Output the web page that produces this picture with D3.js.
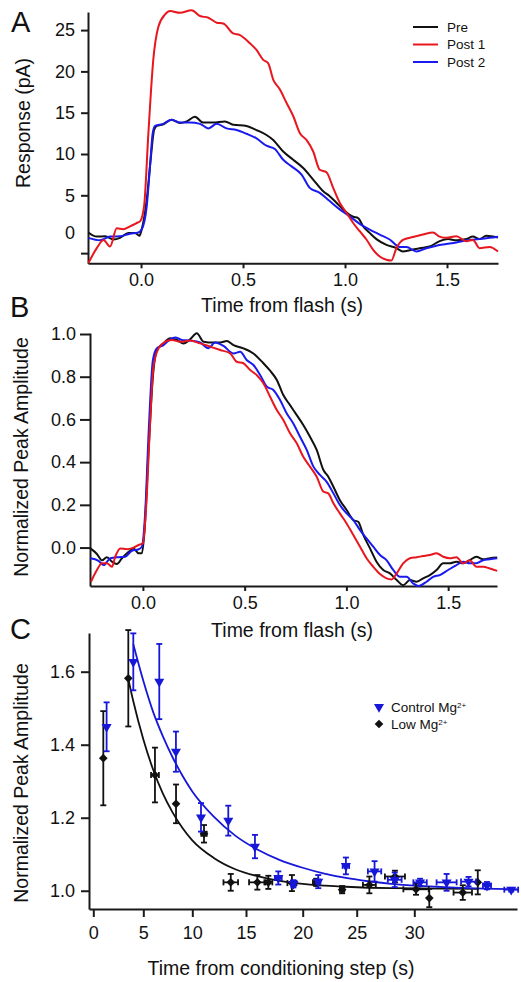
<!DOCTYPE html>
<html>
<head>
<meta charset="utf-8">
<script src="https://cdn.jsdelivr.net/npm/d3@7"></script>
<style>
  body { margin: 0; background: #fff; }
  svg { display: block; font-family: "Liberation Sans", Arial, Helvetica, sans-serif; }
  .axis path, .axis line { stroke: #1a1a1a; stroke-width: 2; }
  .axis text { font-size: 18px; fill: #111; font-family: "Liberation Sans", Arial, sans-serif; }
</style>
</head>
<body>
<svg width="521" height="982"></svg>
<script>
// ---- panel A : raw responses (pA), [time s, value]
const preA = [[-0.258,0.5],[-0.217,0],[-0.176,0.05],[-0.135,-0.35],[-0.103,-0.15],[-0.062,0.45],[-0.029,0.45],[-0.008,0.1],[0.003,0.85],[0.028,4.5],[0.047,9.3],[0.064,12.9],[0.077,13.4],[0.109,13.6],[0.150,14.15],[0.191,13.75],[0.224,13.95],[0.264,14.5],[0.305,13.8],[0.354,13.8],[0.411,13.95],[0.452,13.55],[0.517,13.4],[0.566,12.9],[0.615,12.3],[0.648,11.7],[0.697,10.3],[0.746,9.3],[0.795,8.3],[0.844,6.9],[0.893,5.5],[0.925,4.9],[0.958,4.1],[0.999,3.1],[1.040,2.4],[1.064,2.25],[1.089,1.25],[1.121,0.45],[1.154,-0.3],[1.203,-1.0],[1.252,-1.4],[1.284,-1.8],[1.317,-1.65],[1.366,-1.4],[1.415,-1.2],[1.464,-0.55],[1.505,-0.3],[1.546,-0.45],[1.595,-0.3],[1.627,0],[1.660,-0.3],[1.692,0.1],[1.750,-0.1]];
const post1A = [[-0.258,-3.2],[-0.217,-1.4],[-0.184,-0.4],[-0.152,-1.2],[-0.119,1.0],[-0.087,0.9],[-0.054,1.25],[-0.021,1.65],[-0.005,1.85],[0.015,3.7],[0.036,12.5],[0.060,21.4],[0.085,25.4],[0.118,26.9],[0.142,27.3],[0.191,27.1],[0.248,27.4],[0.289,26.7],[0.330,26.5],[0.371,25.9],[0.403,25.8],[0.452,24.6],[0.485,24.4],[0.534,23.4],[0.566,22.6],[0.599,21.4],[0.623,21.0],[0.648,19.0],[0.681,17.8],[0.713,16.2],[0.746,14.6],[0.779,12.5],[0.811,11.7],[0.844,10.3],[0.876,8.1],[0.909,7.8],[0.942,5.9],[0.974,4.1],[1.007,2.9],[1.040,1.65],[1.072,0.65],[1.105,-0.35],[1.138,-1.6],[1.170,-2.4],[1.203,-2.8],[1.227,-2.9],[1.252,-1.4],[1.284,-0.4],[1.333,-0.05],[1.382,0.25],[1.431,0.5],[1.464,0],[1.497,-0.15],[1.546,0.05],[1.595,-0.55],[1.627,-0.4],[1.660,-1.4],[1.709,-1.25],[1.750,-1.8]];
const post2A = [[-0.258,-0.15],[-0.201,-0.45],[-0.152,0],[-0.103,0.05],[-0.054,0.35],[-0.013,0.5],[0.003,0.85],[0.028,3.7],[0.044,8.5],[0.057,12.5],[0.069,13.4],[0.109,13.65],[0.150,14.15],[0.191,13.8],[0.240,13.8],[0.289,13.65],[0.330,13.1],[0.371,13.65],[0.419,13.1],[0.468,12.9],[0.517,12.45],[0.566,11.9],[0.615,11.0],[0.656,10.6],[0.697,9.3],[0.738,8.5],[0.787,7.5],[0.827,5.9],[0.876,5.3],[0.925,4.3],[0.974,3.3],[1.023,2.45],[1.072,1.55],[1.121,0.85],[1.170,0.25],[1.219,-0.35],[1.268,-1.25],[1.301,-1.25],[1.350,-1.8],[1.399,-1.4],[1.448,-1.1],[1.497,-0.9],[1.546,-0.7],[1.595,-0.45],[1.660,-0.3],[1.709,-0.15],[1.750,0]];
const yTicksA = [-2, 0, 5, 10, 15, 20, 25];

// ---- panel B : normalized responses
const preB = [[-0.258,-0.004],[-0.226,-0.03],[-0.201,-0.06],[-0.177,-0.045],[-0.152,-0.066],[-0.128,-0.077],[-0.103,-0.05],[-0.070,-0.02],[-0.046,-0.004],[-0.021,-0.027],[-0.005,-0.027],[0.007,0.066],[0.028,0.457],[0.049,0.80],[0.069,0.925],[0.101,0.956],[0.134,0.98],[0.167,0.972],[0.200,0.956],[0.232,0.975],[0.265,1.003],[0.298,0.964],[0.347,0.96],[0.380,0.96],[0.412,0.967],[0.445,0.948],[0.494,0.933],[0.543,0.909],[0.592,0.863],[0.625,0.828],[0.658,0.785],[0.690,0.714],[0.723,0.667],[0.756,0.62],[0.788,0.574],[0.821,0.519],[0.854,0.457],[0.887,0.363],[0.911,0.332],[0.936,0.285],[0.968,0.222],[1.001,0.176],[1.034,0.129],[1.058,0.121],[1.083,0.059],[1.116,-0.004],[1.148,-0.066],[1.181,-0.105],[1.214,-0.121],[1.247,-0.152],[1.279,-0.176],[1.312,-0.152],[1.345,-0.16],[1.377,-0.144],[1.410,-0.129],[1.443,-0.105],[1.476,-0.074],[1.508,-0.074],[1.541,-0.066],[1.574,-0.074],[1.606,-0.059],[1.639,-0.043],[1.672,-0.055],[1.705,-0.05],[1.741,-0.047]];
const post1B = [[-0.255,-0.16],[-0.226,-0.105],[-0.201,-0.074],[-0.177,-0.074],[-0.152,-0.09],[-0.136,-0.043],[-0.111,-0.004],[-0.079,-0.008],[-0.046,0],[-0.021,0.012],[0.000,0.02],[0.016,0.191],[0.033,0.535],[0.052,0.847],[0.077,0.933],[0.110,0.964],[0.142,0.972],[0.183,0.964],[0.232,0.969],[0.281,0.956],[0.330,0.941],[0.380,0.925],[0.429,0.909],[0.461,0.87],[0.494,0.863],[0.527,0.831],[0.559,0.808],[0.592,0.769],[0.625,0.706],[0.658,0.644],[0.690,0.597],[0.723,0.535],[0.756,0.488],[0.788,0.425],[0.821,0.379],[0.854,0.332],[0.887,0.262],[0.911,0.254],[0.936,0.207],[0.968,0.16],[1.001,0.113],[1.034,0.059],[1.067,0.004],[1.099,-0.05],[1.132,-0.09],[1.165,-0.124],[1.197,-0.144],[1.222,-0.149],[1.247,-0.121],[1.279,-0.074],[1.312,-0.05],[1.345,-0.045],[1.377,-0.04],[1.410,-0.035],[1.443,-0.027],[1.476,-0.043],[1.508,-0.05],[1.541,-0.045],[1.574,-0.074],[1.606,-0.059],[1.639,-0.09],[1.672,-0.09],[1.705,-0.098],[1.741,-0.109]];
const post2B = [[-0.258,-0.05],[-0.218,-0.062],[-0.193,-0.082],[-0.160,-0.05],[-0.119,-0.045],[-0.087,-0.043],[-0.054,-0.015],[-0.021,-0.008],[-0.005,0.004],[0.011,0.16],[0.028,0.535],[0.049,0.878],[0.069,0.933],[0.101,0.948],[0.134,0.975],[0.159,0.984],[0.191,0.972],[0.232,0.969],[0.281,0.96],[0.322,0.933],[0.355,0.96],[0.396,0.944],[0.445,0.909],[0.478,0.917],[0.510,0.878],[0.543,0.855],[0.576,0.808],[0.609,0.753],[0.641,0.738],[0.674,0.691],[0.707,0.628],[0.739,0.581],[0.772,0.519],[0.805,0.457],[0.838,0.379],[0.870,0.34],[0.903,0.308],[0.936,0.254],[0.968,0.199],[1.001,0.16],[1.034,0.129],[1.067,0.082],[1.099,0.043],[1.132,0.004],[1.165,-0.035],[1.197,-0.059],[1.230,-0.105],[1.263,-0.137],[1.296,-0.137],[1.328,-0.168],[1.353,-0.18],[1.394,-0.16],[1.426,-0.137],[1.459,-0.129],[1.500,-0.105],[1.541,-0.082],[1.574,-0.066],[1.606,-0.074],[1.639,-0.074],[1.672,-0.059],[1.705,-0.055],[1.741,-0.05]];
const yTicksB = [0, 0.2, 0.4, 0.6, 0.8, 1.0];
const xTicksAB = [0, 0.5, 1.0, 1.5];

// ---- panel C : recovery after conditioning step
const controlX = [1.33, 4.0, 6.63, 8.33, 10.81, 13.35, 15.79, 17.85, 19.18, 21.44, 24.0, 26.55, 28.3, 30.5, 32.8, 34.7, 36.3, 38.4];
const controlY = [1.449, 1.627, 1.573, 1.381, 1.201, 1.192, 1.121, 1.035, 1.019, 1.025, 1.068, 1.053, 1.030, 1.023, 1.023, 1.025, 1.014, 1.003];
const controlErrY = [0.067, 0.078, 0.103, 0.055, 0.039, 0.041, 0.032, 0.018, 0.01, 0.018, 0.023, 0.028, 0.02, 0.01, 0.023, 0.013, 0.01, 0.005];
const controlErrX = [0, 0, 0, 0, 0, 0, 0, 0.3, 0.2, 0.2, 0.3, 0.58, 0.6, 0.58, 0.87, 0.65, 0.35, 0.6];
const lowX = [1.0, 3.5, 6.19, 8.34, 11.09, 13.58, 16.0, 16.97, 19.05, 21.25, 23.65, 26.1, 28.32, 30.15, 31.3, 34.2, 35.5];
const lowY = [1.363, 1.582, 1.317, 1.238, 1.156, 1.023, 1.023, 1.023, 1.021, 1.023, 1.003, 1.016, 1.039, 1.004, 0.98, 0.995, 1.023];
const lowErrY = [0.129, 0.132, 0.075, 0.053, 0.024, 0.023, 0.02, 0.018, 0.022, 0.01, 0.01, 0.023, 0.016, 0.015, 0.025, 0.02, 0.033];
const lowErrX = [0, 0, 0.4, 0, 0.25, 0.68, 0.73, 0.35, 0.4, 0.3, 0.2, 0.56, 0.87, 1.1, 0, 0.8, 0];
// fitted exponential curves
const controlFitX = [4, 5, 6, 7, 8, 9, 10, 12, 14, 16, 18, 20, 22, 24, 26, 28, 30, 32, 34, 36, 38.9];
const controlFitY = [1.675, 1.575, 1.49, 1.423, 1.365, 1.315, 1.272, 1.203, 1.151, 1.113, 1.084, 1.063, 1.047, 1.035, 1.026, 1.019, 1.014, 1.011, 1.008, 1.006, 1.004];
const lowFitX = [3.5, 4, 5, 6, 7, 8, 9, 10, 12, 14, 16, 18, 20, 24, 28, 32, 35.6];
const lowFitY = [1.580, 1.519, 1.415, 1.332, 1.266, 1.214, 1.172, 1.138, 1.090, 1.059, 1.040, 1.027, 1.019, 1.011, 1.007, 1.006, 1.005];
const xTicksC = [0, 5, 10, 15, 20, 25, 30];
const yTicksC = [1.0, 1.2, 1.4, 1.6];

const RED = '#e8161e';
const BLUE = '#1a1aee';
const BLACK = '#111111';

const svg = d3.select('svg');
svg.append('rect').attr('width', 521).attr('height', 982).attr('fill', '#fff');

function panelLetter(letter, x, y) {
  svg.append('text')
    .attr('x', x)
    .attr('y', y)
    .attr('font-size', 29)
    .attr('fill', '#111')
    .text(letter);
}

function axisTitle(text, x, y, rotate) {
  svg.append('text')
    .attr('transform', 'translate(' + x + ',' + y + ')' + (rotate ? ' rotate(-90)' : ''))
    .attr('text-anchor', 'middle')
    .attr('font-size', 19.5)
    .attr('fill', '#111')
    .text(text);
}

function drawTraces(x, y, series) {
  const line = d3.line()
    .x(function (d) { return x(d[0]); })
    .y(function (d) { return y(d[1]); })
    .curve(d3.curveMonotoneX);
  series.forEach(function (s) {
    svg.append('path')
      .datum(s.data)
      .attr('fill', 'none')
      .attr('stroke', s.color)
      .attr('stroke-width', 2)
      .attr('stroke-linejoin', 'round')
      .attr('d', line);
  });
}

// ---------------- Panel A
function panelA() {
  const x = d3.scaleLinear().domain([-0.26, 1.75]).range([88, 498]);
  const y = d3.scaleLinear().domain([-3.23, 27.19]).range([263.3, 12]);

  svg.append('g')
    .attr('class', 'axis')
    .attr('transform', 'translate(0,263.3)')
    .call(d3.axisBottom(x).tickValues(xTicksAB).tickFormat(d3.format('.1f')).tickSize(5).tickSizeOuter(0).tickPadding(5));

  const ya = svg.append('g')
    .attr('class', 'axis')
    .attr('transform', 'translate(88,0)')
    .call(d3.axisLeft(y).tickValues(yTicksA).tickFormat(function (d) { return d === -2 ? '' : d; })
      .tickSize(7).tickSizeOuter(0).tickPadding(6));
  // the "0" label stands without a tick mark
  ya.selectAll('.tick').filter(function (d) { return d === 0; }).select('line').remove();
  ya.selectAll('.tick').filter(function (d) { return d === 0; }).select('text').attr('dy', '0.1em');

  drawTraces(x, y, [
    { data: preA, color: BLACK },
    { data: post2A, color: BLUE },
    { data: post1A, color: RED }
  ]);

  const legend = [['Pre', BLACK], ['Post 1', RED], ['Post 2', BLUE]];
  const lg = svg.append('g').selectAll('g').data(legend).enter().append('g')
    .attr('transform', function (d, i) { return 'translate(413,' + (27 + i * 17.5) + ')'; });
  lg.append('line').attr('x1', 0).attr('x2', 25).attr('stroke', function (d) { return d[1]; }).attr('stroke-width', 2);
  lg.append('text').attr('x', 34).attr('dy', '0.36em').attr('font-size', 13.5).attr('fill', '#111')
    .text(function (d) { return d[0]; });

  axisTitle('Response (pA)', 30, 123, true);
  axisTitle('Time from flash (s)', 282, 312, false);
  panelLetter('A', 11, 32);
}

// ---------------- Panel B
function panelB() {
  const x = d3.scaleLinear().domain([-0.26, 1.74]).range([90, 497]);
  const y = d3.scaleLinear().domain([-0.18, 1.0047]).range([586, 333]);

  svg.append('g')
    .attr('class', 'axis')
    .attr('transform', 'translate(0,586)')
    .call(d3.axisBottom(x).tickValues(xTicksAB).tickFormat(d3.format('.1f')).tickSize(5).tickSizeOuter(0).tickPadding(5));

  svg.append('g')
    .attr('class', 'axis')
    .attr('transform', 'translate(90,0)')
    .call(d3.axisLeft(y).tickValues(yTicksB).tickFormat(d3.format('.1f')).tickSize(10).tickSizeOuter(0).tickPadding(4));

  drawTraces(x, y, [
    { data: preB, color: BLACK },
    { data: post2B, color: BLUE },
    { data: post1B, color: RED }
  ]);

  axisTitle('Normalized Peak Amplitude', 28, 457, true);
  axisTitle('Time from flash (s)', 292, 637, false);
  panelLetter('B', 10, 317);
}

// ---------------- Panel C
function panelC() {
  // the printed time axis is not evenly spaced, so map tick by tick
  const x = d3.scaleLinear()
    .domain([-0.38, 0, 5, 10, 15, 20, 25, 30, 38.9])
    .range([89, 93.3, 143.3, 192.3, 246, 302.7, 356.7, 414.3, 517]);
  const y = d3.scaleLinear().domain([0.95, 1.706]).range([909, 633]);

  svg.append('g')
    .attr('class', 'axis')
    .attr('transform', 'translate(0,909)')
    .call(d3.axisBottom(x).tickValues(xTicksC).tickSize(8).tickSizeOuter(0).tickPadding(9));

  svg.append('g')
    .attr('class', 'axis')
    .attr('transform', 'translate(89,0)')
    .call(d3.axisLeft(y).tickValues(yTicksC).tickFormat(d3.format('.1f')).tickSize(8).tickSizeOuter(0).tickPadding(6));

  const CBLUE = '#1717d8';
  const fitLine = d3.line()
    .x(function (d) { return x(d[0]); })
    .y(function (d) { return y(d[1]); })
    .curve(d3.curveMonotoneX);

  svg.append('path')
    .datum(d3.zip(lowFitX, lowFitY))
    .attr('fill', 'none').attr('stroke', BLACK).attr('stroke-width', 1.8)
    .attr('d', fitLine);
  svg.append('path')
    .datum(d3.zip(controlFitX, controlFitY))
    .attr('fill', 'none').attr('stroke', CBLUE).attr('stroke-width', 1.8)
    .attr('d', fitLine);

  function points(xs, ys, ey, ex, color, symbol) {
    const data = xs.map(function (v, i) { return { x: v, y: ys[i], ey: ey[i], ex: ex[i] }; });
    const g = svg.append('g').selectAll('g').data(data).enter().append('g');
    const cap = 3;
    g.append('line')
      .attr('x1', function (d) { return x(d.x); }).attr('x2', function (d) { return x(d.x); })
      .attr('y1', function (d) { return y(d.y + d.ey); }).attr('y2', function (d) { return y(d.y - d.ey); })
      .attr('stroke', color).attr('stroke-width', 1.8);
    [1, -1].forEach(function (s) {
      g.append('line')
        .attr('x1', function (d) { return x(d.x) - cap; }).attr('x2', function (d) { return x(d.x) + cap; })
        .attr('y1', function (d) { return y(d.y + s * d.ey); }).attr('y2', function (d) { return y(d.y + s * d.ey); })
        .attr('stroke', color).attr('stroke-width', 1.8);
    });
    const gx = g.filter(function (d) { return d.ex > 0; });
    gx.append('line')
      .attr('x1', function (d) { return x(d.x - d.ex); }).attr('x2', function (d) { return x(d.x + d.ex); })
      .attr('y1', function (d) { return y(d.y); }).attr('y2', function (d) { return y(d.y); })
      .attr('stroke', color).attr('stroke-width', 1.8);
    [1, -1].forEach(function (s) {
      gx.append('line')
        .attr('x1', function (d) { return x(d.x + s * d.ex); }).attr('x2', function (d) { return x(d.x + s * d.ex); })
        .attr('y1', function (d) { return y(d.y) - cap; }).attr('y2', function (d) { return y(d.y) + cap; })
        .attr('stroke', color).attr('stroke-width', 1.8);
    });
    g.append('path')
      .attr('d', symbol)
      .attr('transform', function (d) {
        return 'translate(' + x(d.x) + ',' + y(d.y) + ')' + (symbol === diamond ? ' rotate(45)' : ' rotate(180)');
      })
      .attr('fill', color);
  }

  const triangle = d3.symbol().type(d3.symbolTriangle).size(44)();
  const diamond = d3.symbol().type(d3.symbolSquare).size(38)();

  points(lowX, lowY, lowErrY, lowErrX, BLACK, diamond);
  points(controlX, controlY, controlErrY, controlErrX, CBLUE, triangle);

  // legend
  const legendC = [['Control Mg', CBLUE, triangle], ['Low Mg', BLACK, diamond]];
  const lg = svg.append('g').selectAll('g').data(legendC).enter().append('g')
    .attr('transform', function (d, i) { return 'translate(379,' + (707 + i * 17) + ')'; });
  lg.append('path')
    .attr('d', function (d) { return d[2]; })
    .attr('transform', function (d) { return d[2] === diamond ? 'rotate(45)' : 'rotate(180)'; })
    .attr('fill', function (d) { return d[1]; });
  const lt = lg.append('text').attr('x', 12).attr('y', 5).attr('font-size', 13.5).attr('fill', '#111');
  lt.append('tspan').text(function (d) { return d[0]; });
  lt.append('tspan').attr('font-size', 8).attr('dy', -4).text('2+');

  axisTitle('Normalized Peak Amplitude', 28, 783, true);
  axisTitle('Time from conditioning step (s)', 281, 975, false);
  panelLetter('C', 10, 639);
}

panelA();
panelB();
panelC();
</script>
</body>
</html>
